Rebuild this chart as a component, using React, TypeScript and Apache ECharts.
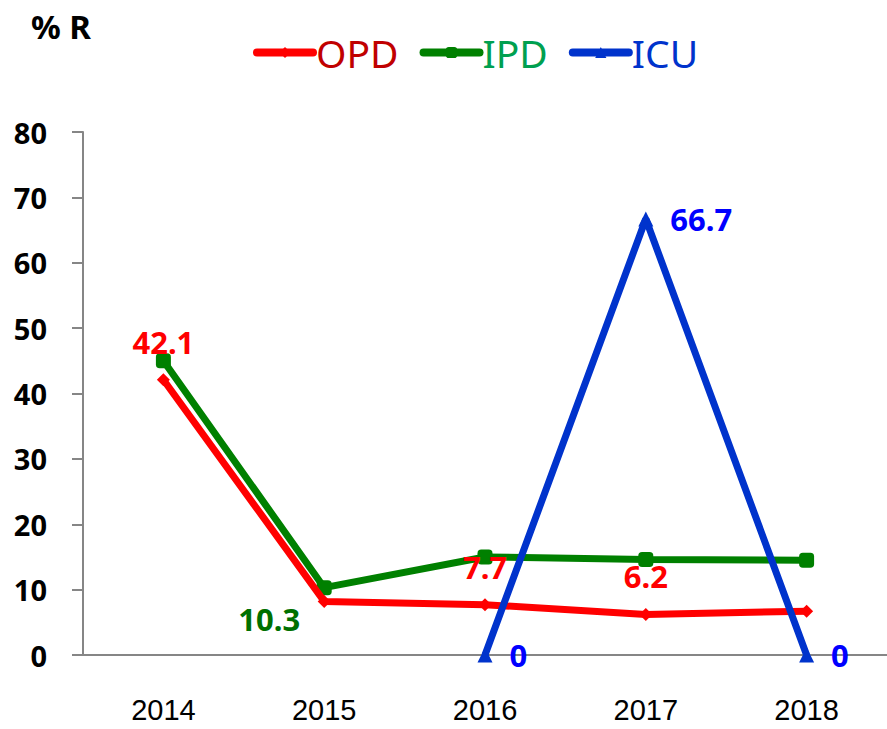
import React, { useEffect, useRef } from "react";
import * as echarts from "echarts";

const categories = ["2014", "2015", "2016", "2017", "2018"];
const opdValues = [42.1, 8.2, 7.7, 6.2, 6.7];
const ipdValues = [45.0, 10.3, 15.0, 14.6, 14.5];
const icuValues: (number | null)[] = [null, null, 0, 66.7, 0];
const opdLabelShown = [true, false, true, true, false];
const ipdLabelShown = [false, true, false, false, false];
const icuLabelShown = [false, false, true, true, true];

export default function App() {
  const ref = useRef<HTMLDivElement>(null);
  useEffect(() => {
    if (!ref.current) return;
    const chart = echarts.init(ref.current, null, { renderer: "svg" });
    const labelFont = { fontFamily: "Noto Sans", fontWeight: "bold" as const, fontSize: 31 };
    const mk = (vals: (number | null)[], shown: boolean[]) =>
      vals.map((v, i) => ({ value: v === null ? "-" : v, label: { show: shown[i] } }));
    chart.setOption({
      animation: false,
      title: {
        text: "% R",
        left: 26,
        top: 5,
        textStyle: { fontFamily: "Noto Sans", fontWeight: "bold", fontSize: 33, color: "#000" },
      },
      legend: {
        left: 248,
        top: 28,
        itemWidth: 56,
        itemHeight: 14,
        itemGap: 21,
        lineStyle: { width: 8, cap: "round" },
        textStyle: { fontFamily: "Noto Sans", fontSize: 39, padding: [0, 0, 0, -2] },
        data: [
          { name: "OPD", textStyle: { color: "#c00000" } },
          { name: "IPD", textStyle: { color: "#00a050" } },
          { name: "ICU", textStyle: { color: "#0033cc" } },
        ],
      },
      grid: { left: 83, right: 0, top: 132, bottom: 74, containLabel: false },
      xAxis: {
        type: "category",
        data: categories,
        boundaryGap: true,
        axisLine: { lineStyle: { color: "#868686", width: 2 } },
        axisTick: { length: 12, lineStyle: { color: "#868686", width: 2 } },
        axisLabel: { margin: 40, fontFamily: "Liberation Sans", fontSize: 29, color: "#000" },
      },
      yAxis: {
        type: "value",
        min: 0,
        max: 80,
        interval: 10,
        splitLine: { show: false },
        axisLine: { show: true, lineStyle: { color: "#868686", width: 2 } },
        axisTick: { show: true, length: 11, lineStyle: { color: "#868686", width: 2 } },
        axisLabel: { margin: 36, fontFamily: "Noto Sans", fontWeight: "bold", fontSize: 29, color: "#000" },
      },
      series: [
        {
          name: "OPD",
          type: "line",
          data: mk(opdValues, opdLabelShown),
          symbol: "diamond",
          symbolSize: 13,
          lineStyle: { width: 7, color: "#ff0000" },
          itemStyle: { color: "#ff0000" },
          label: { position: "top", distance: 16, color: "#ff0000", ...labelFont },
          z: 3,
        },
        {
          name: "IPD",
          type: "line",
          data: mk(ipdValues, ipdLabelShown).map((d, i) =>
            i === 1 ? { ...d, label: { show: true, position: "bottom", distance: 8, offset: [-55, 0] } } : d
          ),
          symbol: "roundRect",
          symbolSize: 15,
          lineStyle: { width: 7, color: "#008000" },
          itemStyle: { color: "#008000" },
          label: { position: "bottom", color: "#007000", ...labelFont },
          z: 2,
        },
        {
          name: "ICU",
          type: "line",
          data: mk(icuValues, icuLabelShown),
          symbol: "triangle",
          symbolSize: 15,
          connectNulls: false,
          lineStyle: { width: 7, color: "#0033cc" },
          itemStyle: { color: "#0033cc" },
          label: { position: "right", distance: 17, color: "#0000ff", ...labelFont },
          z: 4,
        },
      ],
    });
    return () => chart.dispose();
  }, []);
  return (
    <div
      ref={ref}
      style={{ position: "fixed", left: 0, top: 0, width: 887, height: 729, background: "#fff" }}
    />
  );
}
